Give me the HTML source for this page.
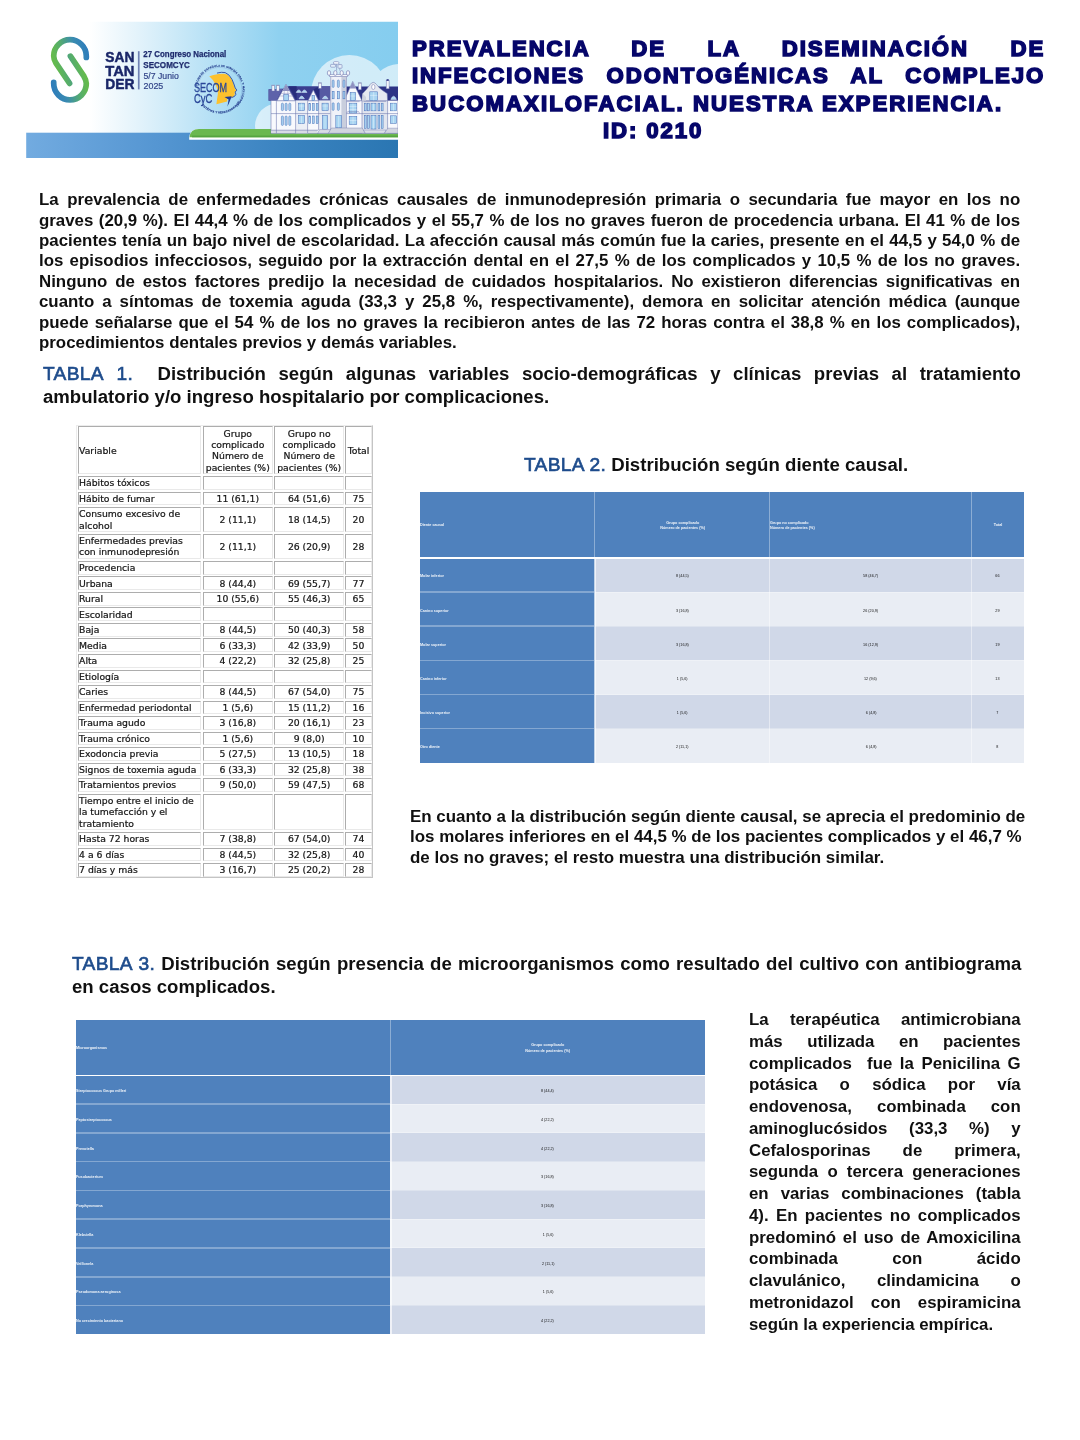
<!DOCTYPE html>
<html lang="es"><head><meta charset="utf-8"><title>Prevalencia de la diseminación de infecciones odontogénicas</title>
<style>
html,body{margin:0;padding:0;background:#fff}
body{width:1080px;height:1440px;position:relative;overflow:hidden;font-family:"Liberation Sans",sans-serif;color:#0d0d0d}
#pg{position:absolute;left:0;top:0;width:1080px;height:1440px}
.l{position:absolute;white-space:nowrap;line-height:1;transform-origin:0 50%;margin:0}
.l.b{font-weight:bold;color:#101010}
.l.j{text-align:justify;text-align-last:justify}
.l.t{font-weight:bold;color:#06066a;-webkit-text-stroke:1.6px #06066a}
.tb{font-weight:normal;color:#1e4c8c;font-size:1.03em;letter-spacing:0.3px;-webkit-text-stroke:0.65px #1e4c8c}
.sp{display:inline-block;height:1px}
#t1{font-family:"DejaVu Sans","Liberation Sans",sans-serif;color:#161616;-webkit-text-stroke:0.22px #161616}
#t1 div{position:absolute;box-sizing:border-box}
#t1 .to{border:1px solid;border-color:#ececec #c4c4c4 #c4c4c4 #ececec;background:#fff}
#t1 .c{border:1px solid;border-color:#adadad #e9e9e9 #e9e9e9 #adadad;display:flex;align-items:center;white-space:nowrap;padding-left:0.4px;background:#fff}
#t1 .c.m{justify-content:center;text-align:center;padding-left:0}
#t1 .c span{display:block;position:relative;top:0px}
.bt{font-family:"Liberation Sans",sans-serif;font-weight:bold}
.bt div{position:absolute;display:flex;align-items:center;white-space:nowrap}
.bt span{display:block;position:relative}
.bt .lft span{transform-origin:0 50%}
.bt i.ln{position:absolute;display:block;background:#fff}
.bt .h,.bt .f{background:#4f81bd;color:rgba(255,255,255,.92)}
.bt .d1{background:#d0d8e8;color:#111;font-weight:normal}
.bt .d2{background:#e9edf4;color:#111;font-weight:normal}
.bt .ctr{justify-content:center;text-align:center}
.bt .lft{justify-content:flex-start;text-align:left}
</style></head>
<body>
<div id="pg">
<svg id="banner" width="420" height="170" viewBox="0 0 420 170" style="position:absolute;left:0;top:0;overflow:hidden">
<defs>
<linearGradient id="sky" x1="0" y1="0" x2="1" y2="0">
<stop offset="0" stop-color="#ffffff"/><stop offset="0.17" stop-color="#ffffff"/><stop offset="0.3" stop-color="#e3f3fb"/><stop offset="0.5" stop-color="#b5e0f5"/><stop offset="0.68" stop-color="#8fd1f0"/><stop offset="1" stop-color="#85cdef"/>
</linearGradient>
<linearGradient id="sea" x1="0" y1="0" x2="1" y2="0">
<stop offset="0" stop-color="#72abe0"/><stop offset="0.35" stop-color="#5596d2"/><stop offset="0.7" stop-color="#3a83c0"/><stop offset="1" stop-color="#2a76b2"/>
</linearGradient>
<linearGradient id="s1" gradientUnits="userSpaceOnUse" x1="88" y1="50" x2="54" y2="58">
<stop offset="0" stop-color="#2e7dbc"/><stop offset="0.35" stop-color="#3a8bb0"/><stop offset="0.75" stop-color="#56ad6c"/><stop offset="1" stop-color="#64ba4e"/>
</linearGradient>
<linearGradient id="s2" gradientUnits="userSpaceOnUse" x1="52" y1="89" x2="86" y2="81">
<stop offset="0" stop-color="#2e7dbc"/><stop offset="0.35" stop-color="#3a8bb0"/><stop offset="0.75" stop-color="#56ad6c"/><stop offset="1" stop-color="#64ba4e"/>
</linearGradient>
<clipPath id="bclip"><rect x="26.2" y="21.5" width="371.8" height="136.5"/></clipPath>
</defs>
<g clip-path="url(#bclip)">
<rect x="26" y="21.5" width="372" height="136.5" fill="url(#sky)"/>
<!-- clouds -->
<g opacity="0.62">
<circle cx="349.4" cy="93.4" r="38.4" fill="#ffffff"/>
<circle cx="400" cy="95" r="31" fill="#ffffff"/>
<circle cx="277.5" cy="126" r="22.5" fill="#ffffff"/>
<rect x="277" y="110" width="125" height="30" fill="#ffffff"/>
</g>
<!-- sea -->
<rect x="26" y="132.7" width="372" height="25.3" fill="url(#sea)"/>
<!-- grass -->
<path d="M189.2 139.8 L189.2 137.5 Q190 129.1 199 129.1 L398 129.1 L398 139.8 Z" fill="#ffffff"/>
<path d="M189.6 137.3 Q190.3 129.1 199 129.1 L398 129.1 L398 137.3 Z" fill="#6ab84f"/>
<rect x="192" y="135.6" width="206" height="1.7" fill="#55a440"/>
<!-- BUILDING -->
<g id="bld">
<!-- roof -->
<path d="M268.6 100.8 L268.6 89.2 L283 88.8 L288 86.2 L331 86.2 L331 100.8 Z" fill="#3a3e90"/>
<path d="M268.6 100.8 L268.6 89.2 L282.6 88.8 L276.4 100.8 Z" fill="#5e62aa"/>
<path d="M288.6 86.2 L296.6 86.2 L296.6 100.8 Z" fill="#262c7c"/>
<path d="M313.6 89.2 L319.6 86.2 L319.6 100.8 Z" fill="#262c7c"/>
<path d="M319.6 86.4 L331 86.4 L331 100.8 L319.6 100.8 Z" fill="#565aa3"/>
<path d="M346 86.4 L398 86.4 L398 100.8 L346 100.8 Z" fill="#2d3385"/>
<!-- chimneys -->
<g fill="#f4f6fb" stroke="#6b73ac" stroke-width="0.5">
<rect x="271.9" y="85.4" width="2.7" height="5.6"/><rect x="276.5" y="85.4" width="2.7" height="5.6"/>
<rect x="318.6" y="83" width="2.7" height="5.4"/>
<rect x="358.3" y="83" width="2.9" height="6.8"/>
<rect x="386.2" y="80.2" width="2.9" height="8.6"/>
</g>
<g fill="#9aa0c4">
<rect x="271.5" y="84.8" width="3.5" height="1.1"/><rect x="276.1" y="84.8" width="3.5" height="1.1"/>
<rect x="318.2" y="82.4" width="3.5" height="1.1"/><rect x="357.9" y="82.4" width="3.7" height="1.1"/>
</g>
<rect x="386.6" y="79.2" width="2.1" height="1.6" fill="#2d3385"/>
<!-- main body -->
<rect x="271" y="100.6" width="127" height="32.7" fill="#f8f9fd" stroke="#6b73ac" stroke-width="0.55"/>
<rect x="296" y="100.6" width="12" height="32.6" fill="#eceff6"/>
<rect x="318.6" y="100.6" width="12" height="32.6" fill="#e9ecf4"/>
<rect x="362" y="100.6" width="25.6" height="32.6" fill="#e2e6ef"/>
<rect x="271.4" y="130.2" width="46" height="3" fill="#d8dbe6"/>
<g stroke="#6b73ac" stroke-width="0.55">
<line x1="271" y1="113.6" x2="398" y2="113.6"/>
<line x1="271" y1="130.2" x2="318" y2="130.2"/>
<line x1="276.4" y1="100.6" x2="276.4" y2="133.2"/>
<line x1="295.6" y1="100.6" x2="295.6" y2="133.2"/>
<line x1="307.6" y1="100.6" x2="307.6" y2="133.2"/>
<line x1="318.6" y1="100.6" x2="318.6" y2="130"/>
<line x1="362" y1="100.6" x2="362" y2="130"/>
<line x1="387.6" y1="100.6" x2="387.6" y2="130"/>
</g>
<!-- gables -->
<path d="M277 100.8 L286 84.2 L295.2 100.8 Z" fill="#f8f9fd" stroke="#6b73ac" stroke-width="0.55"/>
<path d="M282.4 91 L286 84.6 L289.6 91 Z" fill="#8d90c0"/>
<path d="M281 93.4 L291 93.4 M279.6 96 L292.4 96 M284.2 91 L284.2 100 M287.8 91 L287.8 100" stroke="#8d90c0" stroke-width="0.5" fill="none"/>
<path d="M308 100.8 L313.3 90 L318.6 100.8 Z" fill="#f8f9fd" stroke="#6b73ac" stroke-width="0.55"/>
<path d="M344.2 100.8 L352.7 81.4 L362 100.8 Z" fill="#f8f9fd" stroke="#6b73ac" stroke-width="0.55"/>
<path d="M349.6 88.6 L352.7 81.8 L355.8 88.6 Z" fill="#8d90c0"/>
<path d="M362 100.8 L362.6 93.6 Q367.6 88.6 370 84.6 Q373.3 80.2 376.6 84.6 Q379.2 88.8 387.2 93.6 L387.6 100.8 Z" fill="#e6e9f1" stroke="#6b73ac" stroke-width="0.55"/>
<path d="M362 100.8 L362.6 93.6 L366 97 L366 100.8 Z" fill="#cfd3df"/>
<ellipse cx="373.3" cy="87" rx="1.7" ry="2.5" fill="#ffffff" stroke="#6b73ac" stroke-width="0.5"/>
<!-- tower -->
<rect x="330.4" y="76" width="16.1" height="54.6" fill="#f0f2f9" stroke="#6b73ac" stroke-width="0.55"/>
<rect x="341.4" y="76.3" width="4.8" height="54" fill="#c9cedd"/>
<rect x="330.6" y="76.3" width="1.6" height="54" fill="#dfe2ec"/>
<rect x="329.4" y="74.4" width="18.4" height="2.2" fill="#f4f6fb" stroke="#6b73ac" stroke-width="0.5"/>
<g fill="#f4f6fb" stroke="#6b73ac" stroke-width="0.6">
<ellipse cx="329" cy="73" rx="1.7" ry="2.4"/><ellipse cx="335.3" cy="73" rx="1.7" ry="2.4"/><ellipse cx="341.7" cy="73" rx="1.7" ry="2.4"/><ellipse cx="348" cy="73" rx="1.7" ry="2.4"/>
</g>
<path d="M336.6 70.6 L336.6 63 M339.8 70.6 L339.8 64" stroke="#6b73ac" stroke-width="0.5" fill="none"/>
<rect x="333.4" y="61.6" width="5.6" height="2.6" rx="1.3" fill="#f2f7fc" stroke="#6b73ac" stroke-width="0.5"/>
<rect x="330.6" y="64.4" width="4.8" height="2.8" rx="0.6" fill="#e4f0fa" stroke="#6b73ac" stroke-width="0.5"/>
<rect x="338" y="64.6" width="4" height="3.6" rx="0.5" fill="#e4f0fa" stroke="#6b73ac" stroke-width="0.5"/>
<!-- windows -->
<g fill="#a9d5f2" stroke="#4f74bb" stroke-width="0.55">
<rect x="332.2" y="80" width="1.9" height="7.4" rx="0.9"/><rect x="337.4" y="80" width="1.9" height="7.4" rx="0.9"/><rect x="343" y="80" width="1.9" height="7.4" rx="0.9"/>
<rect x="332.2" y="91.4" width="1.9" height="7.4"/><rect x="337.4" y="91.4" width="1.9" height="7.4"/><rect x="343" y="91.4" width="1.9" height="7.4"/>
<rect x="332.2" y="102.8" width="1.9" height="7.6" rx="0.9"/><rect x="337.4" y="102.8" width="1.9" height="7.6" rx="0.9"/>
<rect x="335.8" y="115.6" width="5.8" height="12.2"/>
<rect x="281.4" y="103.2" width="2" height="7.4" rx="0.9"/><rect x="285.1" y="103.2" width="2" height="7.4" rx="0.9"/><rect x="288.8" y="103.2" width="2" height="7.4" rx="0.9"/>
<rect x="281.4" y="116" width="2" height="9.4" rx="0.9"/><rect x="285.1" y="116" width="2" height="9.4" rx="0.9"/><rect x="288.8" y="116" width="2" height="9.4" rx="0.9"/>
<rect x="298.4" y="103.2" width="6.2" height="7.4"/><rect x="298.4" y="115.6" width="6.2" height="8"/>
<rect x="308.8" y="103.6" width="1.9" height="7"/><rect x="312.6" y="103.6" width="1.6" height="7"/><rect x="316.2" y="103.6" width="1.9" height="7"/>
<rect x="308.8" y="116" width="1.9" height="7.6"/><rect x="312.6" y="116" width="1.6" height="7.6"/><rect x="316.2" y="116" width="1.9" height="7.6"/>
<rect x="322" y="103.2" width="6.2" height="7.4"/><rect x="322.4" y="115.6" width="5.2" height="13.6"/>
<rect x="349.2" y="103.2" width="7.6" height="9.8"/><rect x="349.2" y="116.4" width="7.6" height="8.2"/>
<rect x="350.2" y="92.4" width="5.4" height="8"/>
<rect x="364.4" y="103.2" width="1.8" height="7.6"/><rect x="367.6" y="103.2" width="1.8" height="7.6"/><rect x="371" y="103.2" width="5" height="7.6"/><rect x="378" y="103.2" width="1.8" height="7.6"/><rect x="381.3" y="103.2" width="1.8" height="7.6"/>
<rect x="364.4" y="115.4" width="1.8" height="13"/><rect x="367.6" y="115.4" width="1.8" height="13"/><rect x="371" y="115.4" width="5" height="13.6"/><rect x="378" y="115.4" width="1.8" height="13"/><rect x="381.3" y="115.4" width="1.8" height="13"/>
<rect x="369.8" y="91.8" width="7.8" height="8.8"/>
<rect x="390.4" y="103.2" width="6.2" height="7.6"/><rect x="390.4" y="115.8" width="6.2" height="7.6"/>
<rect x="283.8" y="94.6" width="4.6" height="6"/>
<rect x="312" y="95.4" width="2.6" height="5.2"/>
</g>
<g stroke="#eef6fd" stroke-width="0.45" fill="none">
<path d="M301.5 103.4 V110.4 M298.6 106 H304.4 M301.5 115.8 V123.4 M325.1 103.4 V110.4 M322.2 106 H328 M325 115.8 V129"/>
<path d="M353 103.4 V112.8 M349.4 106.4 H356.6 M349.4 109.6 H356.6 M353 116.6 V124.4 M349.4 120.4 H356.6 M352.9 92.6 V100.2 M350.4 96 H355.4"/>
<path d="M373.5 103.4 V110.6 M373.5 115.6 V128.8 M373.7 92 V100.4 M370 95.4 H377.4"/>
<path d="M393.5 103.4 V110.6 M393.5 116 V123.2 M338.7 115.8 V127.6"/>
</g>
<path d="M346.6 101.6 H359.6 M363.6 101.4 H386 M346.6 113.4 L347.6 111.6 H358.6 L359.6 113.4" stroke="#6b73ac" stroke-width="0.45" fill="none"/>
<g fill="#a9d5f2" stroke="#e3eefa" stroke-width="0.5">
<path d="M296.2 92.4 Q298.8 87.4 301.4 92.4 Z"/><path d="M301.8 92.4 Q304.4 87.4 307 92.4 Z"/>
<path d="M299 98.8 Q301.6 93.4 304.4 98.8 Z"/><path d="M322.4 98.8 Q325.2 93.4 328 98.8 Z"/>
<path d="M390.8 99.4 Q393.6 93 396.4 99.4 Z"/>
</g>
<!-- steps -->
<path d="M317.6 133.3 L319.6 129.6 L331 129.6 L328.6 133.3 Z" fill="#d9dce7" stroke="#6b73ac" stroke-width="0.4"/>
<path d="M328.4 133.3 L331.4 128 L362.2 128 L365.4 133.3 Z" fill="#d2d5e0" stroke="#6b73ac" stroke-width="0.4"/>
<path d="M365.4 133.3 L363.4 130 L386.2 130 L384.4 133.3 Z" fill="#dcdfe9" stroke="#6b73ac" stroke-width="0.4"/>
<path d="M384.4 133.3 L387.8 128.2 L398 128.2 L398 133.3 Z" fill="#d2d5e0" stroke="#6b73ac" stroke-width="0.4"/>
</g>
<!-- S logo -->
<g fill="none" stroke-width="5.7" stroke-linecap="round">
<path d="M86.3 57.4 L86.3 56 A16.3 16.3 0 0 0 53.7 56 Q53.7 59.4 56 63.2 L69.6 83.4" stroke="url(#s1)"/>
<path d="M53.7 82.4 L53.7 83.6 A16.3 16.3 0 0 0 86.3 83.6 Q86.3 80.2 84 76.4 L70.4 56.2" stroke="url(#s2)"/>
</g>
<!-- text -->
<g font-family="'Liberation Sans', sans-serif" fill="#1a2668">
<g font-size="14.4" font-weight="bold" stroke="#1a2668" stroke-width="0.45" stroke-linejoin="round">
<text x="105.3" y="61.9" textLength="29.2" lengthAdjust="spacingAndGlyphs">SAN</text>
<text x="105.3" y="75.7" textLength="29.2" lengthAdjust="spacingAndGlyphs">TAN</text>
<text x="105.3" y="89.4" textLength="29.2" lengthAdjust="spacingAndGlyphs">DER</text>
</g>
<rect x="137.9" y="51.2" width="1.7" height="38.2" fill="#6f82b4"/>
<g stroke="#1f2c6e" stroke-width="0.25">
<text x="143.3" y="57.4" font-size="8.6" font-weight="bold" fill="#1f2c6e" textLength="83" lengthAdjust="spacingAndGlyphs">27 Congreso Nacional</text>
<text x="143.3" y="68" font-size="8.6" font-weight="bold" fill="#1f2c6e" textLength="46.6" lengthAdjust="spacingAndGlyphs">SECOMCYC</text>
</g>
<g stroke="#34468a" stroke-width="0.2">
<text x="143.5" y="78.7" font-size="8.8" fill="#34468a" textLength="35.2" lengthAdjust="spacingAndGlyphs">5/7 Junio</text>
<text x="143.5" y="89.4" font-size="8.8" fill="#34468a" textLength="19.8" lengthAdjust="spacingAndGlyphs">2025</text>
</g>
</g>
<!-- SECOM logo -->
<g>
<path id="ringp" d="M196.75 89.6 A22.95 22.95 0 1 1 242.65 89.6 A22.95 22.95 0 1 1 196.75 89.6" fill="none"/>
<path id="ringb" d="M199.3 101.6 A23.6 23.6 0 0 0 240.5 101.2" fill="none"/>
<circle cx="219.7" cy="89.6" r="22.2" fill="none" stroke="#3c5aa6" stroke-width="0.3" opacity="0.55"/>
<g font-family="'Liberation Sans', sans-serif" font-weight="bold" fill="#27418f" stroke="#27418f" stroke-width="0.12">
<text font-size="2.7" letter-spacing="0.18"><textPath href="#ringp" startOffset="3.5">SOCIEDAD ESPAÑOLA DE CIRUGÍA ORAL Y MAXILOFACIAL</textPath></text>
<text font-size="2.7" letter-spacing="0.18"><textPath href="#ringb" startOffset="4.5">ESTÉTICA Y REPARADORA DE LA CABEZA</textPath></text>
</g>
<path d="M209.3 76.2 L213.5 75.0 L218.7 74.0 L223.9 73.7 L227.1 74.6 L230.4 77.5 L232.6 81.4 L233.7 85.3 L234.9 88.5 L236.1 90.5 L234.6 92.4 L234.9 94.3 L233.6 96.6 L230.4 97.9 L227.4 98.9 L227.1 101.5 L221.3 103.1 L216.4 104.2 L217.1 98.9 L217.9 93.7 L217.4 89.2 L215.5 84.6 L212.9 80.1 Z" fill="#fcc12d"/>
<path d="M217.4 73.0 L221.3 72.3 L225.2 72.6 L229.1 75.2 L232.0 79.4 L233.9 84.0 L235.2 87.9 L236.8 90.1 L235.2 92.1 L235.9 94.3 L234.6 96.3 L231.7 97.6" fill="none" stroke="#22409a" stroke-width="0.85" stroke-linejoin="round" stroke-linecap="round"/>
<path d="M224.5 97.1 L231.7 96.3 L229.7 101.5 L227.4 106.7 L228.6 99.5 Z" fill="#1d3a94"/>
<g font-family="'Liberation Sans', sans-serif" fill="#2a4799" stroke="#2a4799" stroke-width="0.3">
<text x="193.9" y="92.4" font-size="12.2" textLength="33.2" lengthAdjust="spacingAndGlyphs">SECOM</text>
<text x="193.9" y="103.1" font-size="12.2" textLength="18.4" lengthAdjust="spacingAndGlyphs">CyC</text>
</g>
</g>
</g>
</g>
</svg>

<div id="title">
<div class="l t j" style="left:412px;top:37.97px;font-size:22.6px;width:646.12px;transform:scaleX(0.9800);letter-spacing:2.0px;">PREVALENCIA DE LA DISEMINACIÓN DE</div>
<div class="l t j" style="left:412px;top:65.47px;font-size:22.6px;width:646.12px;transform:scaleX(0.9800);letter-spacing:2.0px;">INFECCIONES ODONTOGÉNICAS AL COMPLEJO</div>
<div class="l t" style="left:412px;top:92.97px;font-size:22.6px;transform:scaleX(0.9800);letter-spacing:2.12px;">BUCOMAXILOFACIAL. NUESTRA EXPERIENCIA.</div>
<div class="l t" style="left:603px;top:120.47px;font-size:22.6px;transform:scaleX(0.9800);letter-spacing:1.95px;">ID: 0210</div>
</div>
<div id="p1">
<div class="l b j" style="left:39.4px;top:192.35px;font-size:16.6px;width:966.03px;transform:scaleX(1.0157);">La prevalencia de enfermedades crónicas causales de inmunodepresión primaria o secundaria fue mayor en los no</div>
<div class="l b j" style="left:39.4px;top:212.71px;font-size:16.6px;width:966.03px;transform:scaleX(1.0157);">graves (20,9 %). El 44,4 % de los complicados y el 55,7 % de los no graves fueron de procedencia urbana. El 41 % de los</div>
<div class="l b j" style="left:39.4px;top:233.07px;font-size:16.6px;width:966.03px;transform:scaleX(1.0157);">pacientes tenía un bajo nivel de escolaridad. La afección causal más común fue la caries, presente en el 44,5 y 54,0 % de</div>
<div class="l b j" style="left:39.4px;top:253.43px;font-size:16.6px;width:966.03px;transform:scaleX(1.0157);">los episodios infecciosos, seguido por la extracción dental en el 27,5 % de los complicados y 10,5 % de los no graves.</div>
<div class="l b j" style="left:39.4px;top:273.79px;font-size:16.6px;width:966.03px;transform:scaleX(1.0157);">Ninguno de estos factores predijo la necesidad de cuidados hospitalarios. No existieron diferencias significativas en</div>
<div class="l b j" style="left:39.4px;top:294.15px;font-size:16.6px;width:966.03px;transform:scaleX(1.0157);">cuanto a síntomas de toxemia aguda (33,3 y 25,8 %, respectivamente), demora en solicitar atención médica (aunque</div>
<div class="l b j" style="left:39.4px;top:314.51px;font-size:16.6px;width:966.03px;transform:scaleX(1.0157);">puede señalarse que el 54 % de los no graves la recibieron antes de las 72 horas contra el 38,8 % en los complicados),</div>
<div class="l b" style="left:39.4px;top:334.87px;font-size:16.6px;transform:scaleX(1.0157);">procedimientos dentales previos y demás variables.</div>
</div>
<div id="c1">
<div class="l b j" style="left:43.1px;top:365.21px;font-size:18.3px;width:961.55px;transform:scaleX(1.0170);"><span class="tb">TABLA<span class="sp" style="width:12.5px"></span>1.</span><span class="sp" style="width:24px"></span>Distribución según algunas variables socio-demográficas y clínicas previas al tratamiento</div>
<div class="l b" style="left:43.1px;top:387.51px;font-size:18.3px;transform:scaleX(1.0170);">ambulatorio y/o ingreso hospitalario por complicaciones.</div>
</div>
<div class="l b" style="left:524.2px;top:455.91px;font-size:18.3px;transform:scaleX(1.0185);"><span class="tb">TABLA 2.</span> Distribución según diente causal.</div>
<div id="p2">
<div class="l b" style="left:409.8px;top:807.83px;font-size:16.5px;transform:scaleX(1.0260);">En cuanto a la distribución según diente causal, se aprecia el predominio de</div>
<div class="l b" style="left:409.8px;top:828.28px;font-size:16.5px;transform:scaleX(1.0260);">los molares inferiores en el 44,5 % de los pacientes complicados y el 46,7 %</div>
<div class="l b" style="left:409.8px;top:848.73px;font-size:16.5px;transform:scaleX(1.0260);">de los no graves; el resto muestra una distribución similar.</div>
</div>
<div id="c3">
<div class="l b j" style="left:71.6px;top:955.31px;font-size:18.3px;width:933.53px;transform:scaleX(1.0170);"><span class="tb">TABLA 3.</span> Distribución según presencia de microorganismos como resultado del cultivo con antibiograma</div>
<div class="l b" style="left:71.6px;top:977.81px;font-size:18.3px;transform:scaleX(1.0170);">en casos complicados.</div>
</div>
<div id="p3">
<div class="l b j" style="left:749.3px;top:1011.03px;font-size:16.5px;width:266.37px;transform:scaleX(1.0200);">La terapéutica antimicrobiana</div>
<div class="l b j" style="left:749.3px;top:1032.78px;font-size:16.5px;width:266.37px;transform:scaleX(1.0200);">más utilizada en pacientes</div>
<div class="l b j" style="left:749.3px;top:1054.53px;font-size:16.5px;width:266.37px;transform:scaleX(1.0200);">complicados <span class="sp" style="width:0px"></span> fue la Penicilina G</div>
<div class="l b j" style="left:749.3px;top:1076.28px;font-size:16.5px;width:266.37px;transform:scaleX(1.0200);">potásica o sódica por vía</div>
<div class="l b j" style="left:749.3px;top:1098.03px;font-size:16.5px;width:266.37px;transform:scaleX(1.0200);">endovenosa, combinada con</div>
<div class="l b j" style="left:749.3px;top:1119.78px;font-size:16.5px;width:266.37px;transform:scaleX(1.0200);">aminoglucósidos (33,3 %) y</div>
<div class="l b j" style="left:749.3px;top:1141.53px;font-size:16.5px;width:266.37px;transform:scaleX(1.0200);">Cefalosporinas de primera,</div>
<div class="l b j" style="left:749.3px;top:1163.28px;font-size:16.5px;width:266.37px;transform:scaleX(1.0200);">segunda o tercera generaciones</div>
<div class="l b j" style="left:749.3px;top:1185.03px;font-size:16.5px;width:266.37px;transform:scaleX(1.0200);">en varias combinaciones (tabla</div>
<div class="l b j" style="left:749.3px;top:1206.78px;font-size:16.5px;width:266.37px;transform:scaleX(1.0200);">4). En pacientes no complicados</div>
<div class="l b j" style="left:749.3px;top:1228.53px;font-size:16.5px;width:266.37px;transform:scaleX(1.0200);">predominó el uso de Amoxicilina</div>
<div class="l b j" style="left:749.3px;top:1250.28px;font-size:16.5px;width:266.37px;transform:scaleX(1.0200);">combinada con ácido</div>
<div class="l b j" style="left:749.3px;top:1272.03px;font-size:16.5px;width:266.37px;transform:scaleX(1.0200);">clavulánico, clindamicina o</div>
<div class="l b j" style="left:749.3px;top:1293.78px;font-size:16.5px;width:266.37px;transform:scaleX(1.0200);">metronidazol con espiramicina</div>
<div class="l b" style="left:749.3px;top:1315.53px;font-size:16.5px;transform:scaleX(1.0200);">según la experiencia empírica.</div>
</div>
<div id="t1" style="font-size:9.28px;line-height:11.35px">
<div class="to" style="left:76.1px;top:424.8px;width:297.2px;height:453.59px"></div>
<div class="c" style="left:77.7px;top:426.4px;width:123.8px;height:47.8px"><span>Variable</span></div>
<div class="c m" style="left:202.9px;top:426.4px;width:69.8px;height:47.8px"><span>Grupo<br>complicado<br>Número de<br>pacientes (%)</span></div>
<div class="c m" style="left:274.1px;top:426.4px;width:70.2px;height:47.8px"><span>Grupo no<br>complicado<br>Número de<br>pacientes (%)</span></div>
<div class="c m" style="left:345.3px;top:426.4px;width:26.4px;height:47.8px"><span>Total</span></div>
<div class="c" style="left:77.7px;top:475.98px;width:123.8px;height:13.75px"><span>Hábitos tóxicos</span></div>
<div class="c m" style="left:202.9px;top:475.98px;width:69.8px;height:13.75px"><span></span></div>
<div class="c m" style="left:274.1px;top:475.98px;width:70.2px;height:13.75px"><span></span></div>
<div class="c m" style="left:345.3px;top:475.98px;width:26.4px;height:13.75px"><span></span></div>
<div class="c" style="left:77.7px;top:491.51px;width:123.8px;height:13.75px"><span>Hábito de fumar</span></div>
<div class="c m" style="left:202.9px;top:491.51px;width:69.8px;height:13.75px"><span>11 (61,1)</span></div>
<div class="c m" style="left:274.1px;top:491.51px;width:70.2px;height:13.75px"><span>64 (51,6)</span></div>
<div class="c m" style="left:345.3px;top:491.51px;width:26.4px;height:13.75px"><span>75</span></div>
<div class="c" style="left:77.7px;top:507.04px;width:123.8px;height:25.1px"><span>Consumo excesivo de<br>alcohol</span></div>
<div class="c m" style="left:202.9px;top:507.04px;width:69.8px;height:25.1px"><span>2 (11,1)</span></div>
<div class="c m" style="left:274.1px;top:507.04px;width:70.2px;height:25.1px"><span>18 (14,5)</span></div>
<div class="c m" style="left:345.3px;top:507.04px;width:26.4px;height:25.1px"><span>20</span></div>
<div class="c" style="left:77.7px;top:533.92px;width:123.8px;height:25.1px"><span>Enfermedades previas<br>con inmunodepresión</span></div>
<div class="c m" style="left:202.9px;top:533.92px;width:69.8px;height:25.1px"><span>2 (11,1)</span></div>
<div class="c m" style="left:274.1px;top:533.92px;width:70.2px;height:25.1px"><span>26 (20,9)</span></div>
<div class="c m" style="left:345.3px;top:533.92px;width:26.4px;height:25.1px"><span>28</span></div>
<div class="c" style="left:77.7px;top:560.8px;width:123.8px;height:13.75px"><span>Procedencia</span></div>
<div class="c m" style="left:202.9px;top:560.8px;width:69.8px;height:13.75px"><span></span></div>
<div class="c m" style="left:274.1px;top:560.8px;width:70.2px;height:13.75px"><span></span></div>
<div class="c m" style="left:345.3px;top:560.8px;width:26.4px;height:13.75px"><span></span></div>
<div class="c" style="left:77.7px;top:576.33px;width:123.8px;height:13.75px"><span>Urbana</span></div>
<div class="c m" style="left:202.9px;top:576.33px;width:69.8px;height:13.75px"><span>8 (44,4)</span></div>
<div class="c m" style="left:274.1px;top:576.33px;width:70.2px;height:13.75px"><span>69 (55,7)</span></div>
<div class="c m" style="left:345.3px;top:576.33px;width:26.4px;height:13.75px"><span>77</span></div>
<div class="c" style="left:77.7px;top:591.86px;width:123.8px;height:13.75px"><span>Rural</span></div>
<div class="c m" style="left:202.9px;top:591.86px;width:69.8px;height:13.75px"><span>10 (55,6)</span></div>
<div class="c m" style="left:274.1px;top:591.86px;width:70.2px;height:13.75px"><span>55 (46,3)</span></div>
<div class="c m" style="left:345.3px;top:591.86px;width:26.4px;height:13.75px"><span>65</span></div>
<div class="c" style="left:77.7px;top:607.39px;width:123.8px;height:13.75px"><span>Escolaridad</span></div>
<div class="c m" style="left:202.9px;top:607.39px;width:69.8px;height:13.75px"><span></span></div>
<div class="c m" style="left:274.1px;top:607.39px;width:70.2px;height:13.75px"><span></span></div>
<div class="c m" style="left:345.3px;top:607.39px;width:26.4px;height:13.75px"><span></span></div>
<div class="c" style="left:77.7px;top:622.92px;width:123.8px;height:13.75px"><span>Baja</span></div>
<div class="c m" style="left:202.9px;top:622.92px;width:69.8px;height:13.75px"><span>8 (44,5)</span></div>
<div class="c m" style="left:274.1px;top:622.92px;width:70.2px;height:13.75px"><span>50 (40,3)</span></div>
<div class="c m" style="left:345.3px;top:622.92px;width:26.4px;height:13.75px"><span>58</span></div>
<div class="c" style="left:77.7px;top:638.45px;width:123.8px;height:13.75px"><span>Media</span></div>
<div class="c m" style="left:202.9px;top:638.45px;width:69.8px;height:13.75px"><span>6 (33,3)</span></div>
<div class="c m" style="left:274.1px;top:638.45px;width:70.2px;height:13.75px"><span>42 (33,9)</span></div>
<div class="c m" style="left:345.3px;top:638.45px;width:26.4px;height:13.75px"><span>50</span></div>
<div class="c" style="left:77.7px;top:653.98px;width:123.8px;height:13.75px"><span>Alta</span></div>
<div class="c m" style="left:202.9px;top:653.98px;width:69.8px;height:13.75px"><span>4 (22,2)</span></div>
<div class="c m" style="left:274.1px;top:653.98px;width:70.2px;height:13.75px"><span>32 (25,8)</span></div>
<div class="c m" style="left:345.3px;top:653.98px;width:26.4px;height:13.75px"><span>25</span></div>
<div class="c" style="left:77.7px;top:669.51px;width:123.8px;height:13.75px"><span>Etiología</span></div>
<div class="c m" style="left:202.9px;top:669.51px;width:69.8px;height:13.75px"><span></span></div>
<div class="c m" style="left:274.1px;top:669.51px;width:70.2px;height:13.75px"><span></span></div>
<div class="c m" style="left:345.3px;top:669.51px;width:26.4px;height:13.75px"><span></span></div>
<div class="c" style="left:77.7px;top:685.04px;width:123.8px;height:13.75px"><span>Caries</span></div>
<div class="c m" style="left:202.9px;top:685.04px;width:69.8px;height:13.75px"><span>8 (44,5)</span></div>
<div class="c m" style="left:274.1px;top:685.04px;width:70.2px;height:13.75px"><span>67 (54,0)</span></div>
<div class="c m" style="left:345.3px;top:685.04px;width:26.4px;height:13.75px"><span>75</span></div>
<div class="c" style="left:77.7px;top:700.57px;width:123.8px;height:13.75px"><span>Enfermedad periodontal</span></div>
<div class="c m" style="left:202.9px;top:700.57px;width:69.8px;height:13.75px"><span>1 (5,6)</span></div>
<div class="c m" style="left:274.1px;top:700.57px;width:70.2px;height:13.75px"><span>15 (11,2)</span></div>
<div class="c m" style="left:345.3px;top:700.57px;width:26.4px;height:13.75px"><span>16</span></div>
<div class="c" style="left:77.7px;top:716.1px;width:123.8px;height:13.75px"><span>Trauma agudo</span></div>
<div class="c m" style="left:202.9px;top:716.1px;width:69.8px;height:13.75px"><span>3 (16,8)</span></div>
<div class="c m" style="left:274.1px;top:716.1px;width:70.2px;height:13.75px"><span>20 (16,1)</span></div>
<div class="c m" style="left:345.3px;top:716.1px;width:26.4px;height:13.75px"><span>23</span></div>
<div class="c" style="left:77.7px;top:731.63px;width:123.8px;height:13.75px"><span>Trauma crónico</span></div>
<div class="c m" style="left:202.9px;top:731.63px;width:69.8px;height:13.75px"><span>1 (5,6)</span></div>
<div class="c m" style="left:274.1px;top:731.63px;width:70.2px;height:13.75px"><span>9 (8,0)</span></div>
<div class="c m" style="left:345.3px;top:731.63px;width:26.4px;height:13.75px"><span>10</span></div>
<div class="c" style="left:77.7px;top:747.16px;width:123.8px;height:13.75px"><span>Exodoncia previa</span></div>
<div class="c m" style="left:202.9px;top:747.16px;width:69.8px;height:13.75px"><span>5 (27,5)</span></div>
<div class="c m" style="left:274.1px;top:747.16px;width:70.2px;height:13.75px"><span>13 (10,5)</span></div>
<div class="c m" style="left:345.3px;top:747.16px;width:26.4px;height:13.75px"><span>18</span></div>
<div class="c" style="left:77.7px;top:762.69px;width:123.8px;height:13.75px"><span>Signos de toxemia aguda</span></div>
<div class="c m" style="left:202.9px;top:762.69px;width:69.8px;height:13.75px"><span>6 (33,3)</span></div>
<div class="c m" style="left:274.1px;top:762.69px;width:70.2px;height:13.75px"><span>32 (25,8)</span></div>
<div class="c m" style="left:345.3px;top:762.69px;width:26.4px;height:13.75px"><span>38</span></div>
<div class="c" style="left:77.7px;top:778.22px;width:123.8px;height:13.75px"><span>Tratamientos previos</span></div>
<div class="c m" style="left:202.9px;top:778.22px;width:69.8px;height:13.75px"><span>9 (50,0)</span></div>
<div class="c m" style="left:274.1px;top:778.22px;width:70.2px;height:13.75px"><span>59 (47,5)</span></div>
<div class="c m" style="left:345.3px;top:778.22px;width:26.4px;height:13.75px"><span>68</span></div>
<div class="c" style="left:77.7px;top:793.75px;width:123.8px;height:36.45px"><span>Tiempo entre el inicio de<br>la tumefacción y el<br>tratamiento</span></div>
<div class="c m" style="left:202.9px;top:793.75px;width:69.8px;height:36.45px"><span></span></div>
<div class="c m" style="left:274.1px;top:793.75px;width:70.2px;height:36.45px"><span></span></div>
<div class="c m" style="left:345.3px;top:793.75px;width:26.4px;height:36.45px"><span></span></div>
<div class="c" style="left:77.7px;top:831.98px;width:123.8px;height:13.75px"><span>Hasta 72 horas</span></div>
<div class="c m" style="left:202.9px;top:831.98px;width:69.8px;height:13.75px"><span>7 (38,8)</span></div>
<div class="c m" style="left:274.1px;top:831.98px;width:70.2px;height:13.75px"><span>67 (54,0)</span></div>
<div class="c m" style="left:345.3px;top:831.98px;width:26.4px;height:13.75px"><span>74</span></div>
<div class="c" style="left:77.7px;top:847.51px;width:123.8px;height:13.75px"><span>4 a 6 días</span></div>
<div class="c m" style="left:202.9px;top:847.51px;width:69.8px;height:13.75px"><span>8 (44,5)</span></div>
<div class="c m" style="left:274.1px;top:847.51px;width:70.2px;height:13.75px"><span>32 (25,8)</span></div>
<div class="c m" style="left:345.3px;top:847.51px;width:26.4px;height:13.75px"><span>40</span></div>
<div class="c" style="left:77.7px;top:863.04px;width:123.8px;height:13.75px"><span>7 días y más</span></div>
<div class="c m" style="left:202.9px;top:863.04px;width:69.8px;height:13.75px"><span>3 (16,7)</span></div>
<div class="c m" style="left:274.1px;top:863.04px;width:70.2px;height:13.75px"><span>25 (20,2)</span></div>
<div class="c m" style="left:345.3px;top:863.04px;width:26.4px;height:13.75px"><span>28</span></div>
</div>
<div id="t2" class="bt" style="font-size:4.3px;line-height:5.3px">
<div class="h lft" style="left:420.2px;top:492px;width:175.3px;height:67px"><span style="top:-0.5px;transform:scaleX(0.87)">Diente causal</span></div>
<div class="h ctr" style="left:594.5px;top:492px;width:176.1px;height:67px"><span style="top:-0.5px;transform:scaleX(0.87)">Grupo complicado<br>Número de pacientes (%)</span></div>
<div class="h lft" style="left:769.6px;top:492px;width:202.6px;height:67px"><span style="top:-0.5px;transform:scaleX(0.87)">Grupo no complicado<br>Número de pacientes (%)</span></div>
<div class="h ctr" style="left:971.2px;top:492px;width:52.8px;height:67px"><span style="top:-0.5px;transform:scaleX(0.87)">Total</span></div>
<div class="f lft" style="left:420.2px;top:558px;width:175.3px;height:35.13px"><span style="top:0.5px;transform:scaleX(0.87)">Molar inferior</span></div>
<div class="d1 ctr" style="left:594.5px;top:558px;width:176.1px;height:35.13px"><span style="top:0.5px;transform:scaleX(0.87)">8 (44,5)</span></div>
<div class="d1 ctr" style="left:769.6px;top:558px;width:202.6px;height:35.13px"><span style="top:0.5px;transform:scaleX(0.87)">58 (46,7)</span></div>
<div class="d1 ctr" style="left:971.2px;top:558px;width:52.8px;height:35.13px"><span style="top:0.5px;transform:scaleX(0.87)">66</span></div>
<div class="f lft" style="left:420.2px;top:592.13px;width:175.3px;height:35.13px"><span style="top:0.5px;transform:scaleX(0.87)">Canino superior</span></div>
<div class="d2 ctr" style="left:594.5px;top:592.13px;width:176.1px;height:35.13px"><span style="top:0.5px;transform:scaleX(0.87)">3 (16,8)</span></div>
<div class="d2 ctr" style="left:769.6px;top:592.13px;width:202.6px;height:35.13px"><span style="top:0.5px;transform:scaleX(0.87)">26 (20,9)</span></div>
<div class="d2 ctr" style="left:971.2px;top:592.13px;width:52.8px;height:35.13px"><span style="top:0.5px;transform:scaleX(0.87)">29</span></div>
<div class="f lft" style="left:420.2px;top:626.26px;width:175.3px;height:35.13px"><span style="top:0.5px;transform:scaleX(0.87)">Molar superior</span></div>
<div class="d1 ctr" style="left:594.5px;top:626.26px;width:176.1px;height:35.13px"><span style="top:0.5px;transform:scaleX(0.87)">3 (16,8)</span></div>
<div class="d1 ctr" style="left:769.6px;top:626.26px;width:202.6px;height:35.13px"><span style="top:0.5px;transform:scaleX(0.87)">16 (12,9)</span></div>
<div class="d1 ctr" style="left:971.2px;top:626.26px;width:52.8px;height:35.13px"><span style="top:0.5px;transform:scaleX(0.87)">19</span></div>
<div class="f lft" style="left:420.2px;top:660.39px;width:175.3px;height:35.13px"><span style="top:0.5px;transform:scaleX(0.87)">Canino inferior</span></div>
<div class="d2 ctr" style="left:594.5px;top:660.39px;width:176.1px;height:35.13px"><span style="top:0.5px;transform:scaleX(0.87)">1 (5,6)</span></div>
<div class="d2 ctr" style="left:769.6px;top:660.39px;width:202.6px;height:35.13px"><span style="top:0.5px;transform:scaleX(0.87)">12 (9,6)</span></div>
<div class="d2 ctr" style="left:971.2px;top:660.39px;width:52.8px;height:35.13px"><span style="top:0.5px;transform:scaleX(0.87)">13</span></div>
<div class="f lft" style="left:420.2px;top:694.52px;width:175.3px;height:35.13px"><span style="top:0.5px;transform:scaleX(0.87)">Incisivo superior</span></div>
<div class="d1 ctr" style="left:594.5px;top:694.52px;width:176.1px;height:35.13px"><span style="top:0.5px;transform:scaleX(0.87)">1 (5,6)</span></div>
<div class="d1 ctr" style="left:769.6px;top:694.52px;width:202.6px;height:35.13px"><span style="top:0.5px;transform:scaleX(0.87)">6 (4,8)</span></div>
<div class="d1 ctr" style="left:971.2px;top:694.52px;width:52.8px;height:35.13px"><span style="top:0.5px;transform:scaleX(0.87)">7</span></div>
<div class="f lft" style="left:420.2px;top:728.65px;width:175.3px;height:34.13px"><span style="top:1px;transform:scaleX(0.87)">Otro diente</span></div>
<div class="d2 ctr" style="left:594.5px;top:728.65px;width:176.1px;height:34.13px"><span style="top:1px;transform:scaleX(0.87)">2 (11,1)</span></div>
<div class="d2 ctr" style="left:769.6px;top:728.65px;width:202.6px;height:34.13px"><span style="top:1px;transform:scaleX(0.87)">6 (4,8)</span></div>
<div class="d2 ctr" style="left:971.2px;top:728.65px;width:52.8px;height:34.13px"><span style="top:1px;transform:scaleX(0.87)">8</span></div>
<i class="ln" style="left:420.2px;top:591.33px;width:174.3px;height:1.6px;opacity:0.3"></i>
<i class="ln" style="left:594.5px;top:591.63px;width:429.5px;height:1px;opacity:0.28"></i>
<i class="ln" style="left:420.2px;top:625.46px;width:174.3px;height:1.6px;opacity:0.3"></i>
<i class="ln" style="left:594.5px;top:625.76px;width:429.5px;height:1px;opacity:0.28"></i>
<i class="ln" style="left:420.2px;top:659.59px;width:174.3px;height:1.6px;opacity:0.3"></i>
<i class="ln" style="left:594.5px;top:659.89px;width:429.5px;height:1px;opacity:0.28"></i>
<i class="ln" style="left:420.2px;top:693.72px;width:174.3px;height:1.6px;opacity:0.3"></i>
<i class="ln" style="left:594.5px;top:694.02px;width:429.5px;height:1px;opacity:0.28"></i>
<i class="ln" style="left:420.2px;top:727.85px;width:174.3px;height:1.6px;opacity:0.3"></i>
<i class="ln" style="left:594.5px;top:728.15px;width:429.5px;height:1px;opacity:0.28"></i>
<i class="ln" style="left:593.95px;top:492px;width:1.3px;height:66px;opacity:0.35"></i>
<i class="ln" style="left:594.35px;top:558px;width:1.5px;height:204.78px;opacity:0.65"></i>
<i class="ln" style="left:769.05px;top:492px;width:1.3px;height:66px;opacity:0.35"></i>
<i class="ln" style="left:769.1px;top:558px;width:1px;height:204.78px;opacity:0.45"></i>
<i class="ln" style="left:970.65px;top:492px;width:1.3px;height:66px;opacity:0.35"></i>
<i class="ln" style="left:970.7px;top:558px;width:1px;height:204.78px;opacity:0.45"></i>
<i class="ln" style="left:420.2px;top:557px;width:603.8px;height:2px;opacity:1"></i>
</div>
<div id="t3" class="bt" style="font-size:4.3px;line-height:5.3px">
<div class="h lft" style="left:76px;top:1020px;width:315.3px;height:56.4px"><span style="top:-0.5px;transform:scaleX(0.87)">Microorganismos</span></div>
<div class="h ctr" style="left:390.3px;top:1020px;width:315px;height:56.4px"><span style="top:-0.5px;transform:scaleX(0.87)">Grupo complicado<br>Número de pacientes (%)</span></div>
<div class="f lft" style="left:76px;top:1075.4px;width:315.3px;height:29.76px"><span style="top:0.5px;transform:scaleX(0.87)">Streptococcus Grupo milleri</span></div>
<div class="d1 ctr" style="left:390.3px;top:1075.4px;width:315px;height:29.76px"><span style="top:0.5px;transform:scaleX(0.87)">8 (44,4)</span></div>
<div class="f lft" style="left:76px;top:1104.16px;width:315.3px;height:29.76px"><span style="top:0.5px;transform:scaleX(0.87)">Peptostreptococcus</span></div>
<div class="d2 ctr" style="left:390.3px;top:1104.16px;width:315px;height:29.76px"><span style="top:0.5px;transform:scaleX(0.87)">4 (22,2)</span></div>
<div class="f lft" style="left:76px;top:1132.92px;width:315.3px;height:29.76px"><span style="top:0.5px;transform:scaleX(0.87)">Prevotella</span></div>
<div class="d1 ctr" style="left:390.3px;top:1132.92px;width:315px;height:29.76px"><span style="top:0.5px;transform:scaleX(0.87)">4 (22,2)</span></div>
<div class="f lft" style="left:76px;top:1161.68px;width:315.3px;height:29.76px"><span style="top:0.5px;transform:scaleX(0.87)">Fusobacterium</span></div>
<div class="d2 ctr" style="left:390.3px;top:1161.68px;width:315px;height:29.76px"><span style="top:0.5px;transform:scaleX(0.87)">3 (16,8)</span></div>
<div class="f lft" style="left:76px;top:1190.44px;width:315.3px;height:29.76px"><span style="top:0.5px;transform:scaleX(0.87)">Porphyromona</span></div>
<div class="d1 ctr" style="left:390.3px;top:1190.44px;width:315px;height:29.76px"><span style="top:0.5px;transform:scaleX(0.87)">3 (16,8)</span></div>
<div class="f lft" style="left:76px;top:1219.2px;width:315.3px;height:29.76px"><span style="top:0.5px;transform:scaleX(0.87)">Klebsiella</span></div>
<div class="d2 ctr" style="left:390.3px;top:1219.2px;width:315px;height:29.76px"><span style="top:0.5px;transform:scaleX(0.87)">1 (5,6)</span></div>
<div class="f lft" style="left:76px;top:1247.96px;width:315.3px;height:29.76px"><span style="top:0.5px;transform:scaleX(0.87)">Veillonela</span></div>
<div class="d1 ctr" style="left:390.3px;top:1247.96px;width:315px;height:29.76px"><span style="top:0.5px;transform:scaleX(0.87)">2 (11,1)</span></div>
<div class="f lft" style="left:76px;top:1276.72px;width:315.3px;height:29.76px"><span style="top:0.5px;transform:scaleX(0.87)">Pseudomona aeruginosa</span></div>
<div class="d2 ctr" style="left:390.3px;top:1276.72px;width:315px;height:29.76px"><span style="top:0.5px;transform:scaleX(0.87)">1 (5,6)</span></div>
<div class="f lft" style="left:76px;top:1305.48px;width:315.3px;height:28.76px"><span style="top:1px;transform:scaleX(0.87)">No crecimiento bacteriano</span></div>
<div class="d1 ctr" style="left:390.3px;top:1305.48px;width:315px;height:28.76px"><span style="top:1px;transform:scaleX(0.87)">4 (22,2)</span></div>
<i class="ln" style="left:76px;top:1103.36px;width:314.3px;height:1.6px;opacity:0.3"></i>
<i class="ln" style="left:390.3px;top:1103.66px;width:315px;height:1px;opacity:0.28"></i>
<i class="ln" style="left:76px;top:1132.12px;width:314.3px;height:1.6px;opacity:0.3"></i>
<i class="ln" style="left:390.3px;top:1132.42px;width:315px;height:1px;opacity:0.28"></i>
<i class="ln" style="left:76px;top:1160.88px;width:314.3px;height:1.6px;opacity:0.3"></i>
<i class="ln" style="left:390.3px;top:1161.18px;width:315px;height:1px;opacity:0.28"></i>
<i class="ln" style="left:76px;top:1189.64px;width:314.3px;height:1.6px;opacity:0.3"></i>
<i class="ln" style="left:390.3px;top:1189.94px;width:315px;height:1px;opacity:0.28"></i>
<i class="ln" style="left:76px;top:1218.4px;width:314.3px;height:1.6px;opacity:0.3"></i>
<i class="ln" style="left:390.3px;top:1218.7px;width:315px;height:1px;opacity:0.28"></i>
<i class="ln" style="left:76px;top:1247.16px;width:314.3px;height:1.6px;opacity:0.3"></i>
<i class="ln" style="left:390.3px;top:1247.46px;width:315px;height:1px;opacity:0.28"></i>
<i class="ln" style="left:76px;top:1275.92px;width:314.3px;height:1.6px;opacity:0.3"></i>
<i class="ln" style="left:390.3px;top:1276.22px;width:315px;height:1px;opacity:0.28"></i>
<i class="ln" style="left:76px;top:1304.68px;width:314.3px;height:1.6px;opacity:0.3"></i>
<i class="ln" style="left:390.3px;top:1304.98px;width:315px;height:1px;opacity:0.28"></i>
<i class="ln" style="left:389.75px;top:1020px;width:1.3px;height:55.4px;opacity:0.35"></i>
<i class="ln" style="left:390.15px;top:1075.4px;width:1.5px;height:258.84px;opacity:0.65"></i>
<i class="ln" style="left:76px;top:1074.5px;width:629.3px;height:1.8px;opacity:1"></i>
</div>
</div>
</body></html>
